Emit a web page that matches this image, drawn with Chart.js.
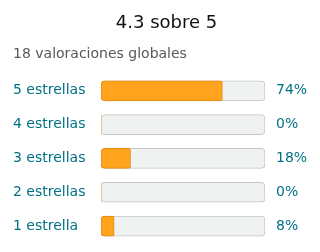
<!DOCTYPE html>
<html lang="es">
<head>
  <meta charset="UTF-8" />
  <title>Valoraciones</title>
  <script src="https://cdn.jsdelivr.net/npm/chart.js"></script>
  <style>
    html, body {
      margin: 0;
      padding: 0;
      background: #ffffff;
    }
    .wrap {
      width: 320px;
      height: 252px;
      position: relative;
    }
  </style>
</head>
<body>
  <div class="wrap">
    <canvas id="ratingChart"></canvas>
  </div>

  <script>
    const categories = ['5 estrellas', '4 estrellas', '3 estrellas', '2 estrellas', '1 estrella'];
    const percents = [74, 0, 18, 0, 8];
    const trackValues = [100, 100, 100, 100, 100];
    const percentLabels = ['74%', '0%', '18%', '0%', '8%'];

    Chart.defaults.font.family = "'DejaVu Sans', sans-serif";

    new Chart(document.getElementById('ratingChart').getContext('2d'), {
      type: 'bar',
      data: {
        labels: categories,
        datasets: [
          {
            label: 'Valoración',
            data: percents,
            backgroundColor: '#ffa41c',
            borderColor: '#e3880f',
            borderWidth: ctx => (percents[ctx.dataIndex] > 0 ? 1 : 0),
            borderRadius: { topLeft: 4, bottomLeft: 4, topRight: 2, bottomRight: 2 },
            borderSkipped: false,
            barThickness: 20,
            grouped: false,
            order: 1
          },
          {
            label: 'Total',
            data: trackValues,
            backgroundColor: '#f0f2f2',
            borderColor: '#c4c6c6',
            borderWidth: 1,
            borderRadius: 4,
            borderSkipped: false,
            barThickness: 20,
            grouped: false,
            order: 2
          }
        ]
      },
      options: {
        indexAxis: 'y',
        responsive: true,
        maintainAspectRatio: false,
        animation: false,
        layout: {
          padding: { left: 13, right: 0, top: 0, bottom: 9 }
        },
        scales: {
          x: {
            display: false,
            min: 0,
            max: 100
          },
          y: {
            type: 'category',
            position: 'left',
            offset: true,
            grid: { display: false, drawTicks: false },
            border: { display: false },
            ticks: {
              color: '#007185',
              font: { size: 14 },
              crossAlign: 'far',
              padding: 0
            },
            afterFit: axis => { axis.width = 88; }
          },
          y2: {
            type: 'category',
            position: 'right',
            labels: percentLabels,
            offset: true,
            // tick marks hidden, tickLength only pushes the labels right
            grid: { display: false, drawTicks: true, tickLength: 11 },
            border: { display: false },
            ticks: {
              color: '#007185',
              font: { size: 14 },
              padding: 0
            },
            afterFit: axis => { axis.width = 55; }
          }
        },
        plugins: {
          legend: { display: false },
          tooltip: { enabled: false },
          title: {
            display: true,
            text: '4.3 sobre 5',
            color: '#0f1111',
            font: { size: 18, weight: 'normal' },
            padding: { top: 13, bottom: 11.5 }
          },
          subtitle: {
            display: true,
            text: '18 valoraciones globales',
            align: 'start',
            color: '#565959',
            font: { size: 14, weight: 'normal' },
            padding: { top: 0, bottom: 11 }
          }
        }
      }
    });
  </script>
</body>
</html>
